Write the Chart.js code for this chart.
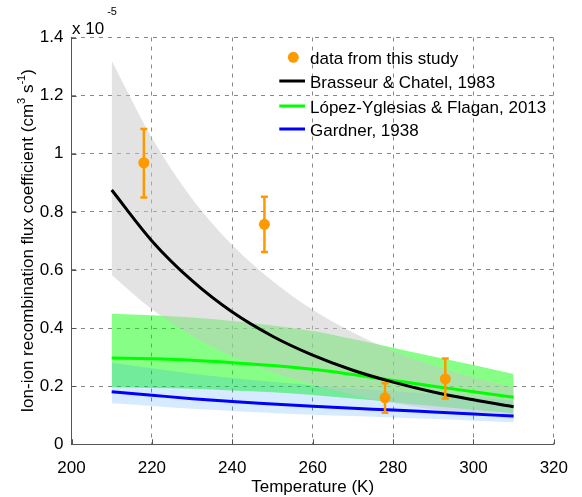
<!DOCTYPE html>
<html>
<head>
<meta charset="utf-8">
<script src="https://cdn.jsdelivr.net/npm/chart.js@4/dist/chart.umd.min.js"></script>
<style>
html,body{margin:0;padding:0;background:#fff;}
#wrap{width:582px;height:497px;}
</style>
</head>
<body>
<div id="wrap"><canvas id="c" width="582" height="497"></canvas></div>
<script>
// ---- data (values in units of 1e-5 cm^3 s^-1) ----
const temps = [210, 220, 230, 240, 250, 260, 270, 280, 290, 300, 310];
const brasseur   = [0.875, 0.700, 0.563, 0.455, 0.372, 0.307, 0.255, 0.214, 0.180, 0.153, 0.129];
const brasseurHi = [1.320, 1.055, 0.845, 0.686, 0.562, 0.463, 0.385, 0.322, 0.272, 0.230, 0.196];
const brasseurLo = [0.583, 0.465, 0.374, 0.303, 0.248, 0.205, 0.170, 0.142, 0.120, 0.102, 0.086];
const lopez      = [0.297, 0.294, 0.289, 0.281, 0.271, 0.258, 0.240, 0.220, 0.200, 0.181, 0.162];
const lopezHi    = [0.449, 0.444, 0.436, 0.424, 0.409, 0.390, 0.362, 0.332, 0.302, 0.273, 0.242];
const lopezLo    = [0.196, 0.194, 0.191, 0.185, 0.179, 0.170, 0.158, 0.145, 0.132, 0.119, 0.107];
const gardner    = [0.181, 0.169, 0.157, 0.147, 0.139, 0.131, 0.124, 0.118, 0.111, 0.104, 0.097];
const gardnerHi  = [0.281, 0.262, 0.243, 0.228, 0.215, 0.203, 0.192, 0.183, 0.172, 0.161, 0.150];
const gardnerLo  = [0.141, 0.132, 0.122, 0.115, 0.108, 0.102, 0.097, 0.092, 0.087, 0.081, 0.076];

const studyT   = [218, 248, 278, 293];
const studyVal = [0.969, 0.757, 0.160, 0.225];
const studyHi  = [1.085, 0.852, 0.210, 0.295];
const studyLo  = [0.849, 0.662, 0.109, 0.158];

const xTicks = [200, 220, 240, 260, 280, 300, 320];
const yTicks = [0, 0.2, 0.4, 0.6, 0.8, 1, 1.2, 1.4];

const legendLabels = ['data from this study', 'Brasseur & Chatel, 1983', 'López-Yglesias & Flagan, 2013', 'Gardner, 1938'];
const xTitle = 'Temperature (K)';
const yTitleParts = [['Ion-ion recombination flux coefficient (cm', 0], ['3', 1], [' s', 0], ['-1', 1], [')', 0]];

// ---- helpers ----
const pts = (xs, ys) => xs.map((x, i) => ({x: x, y: ys[i]}));
const FONT = "'Liberation Sans', Arial, Helvetica, sans-serif";
const ORANGE = '#ff9900';

function band(ys, color, order) {
  return {data: pts(temps, ys), borderWidth: 0, pointRadius: 0, showLine: true,
          backgroundColor: color, borderColor: 'rgba(0,0,0,0)', fill: '+1', order: order,
          cubicInterpolationMode: 'monotone'};
}
function bandLo(ys, order) {
  return {data: pts(temps, ys), borderWidth: 0, pointRadius: 0, showLine: true,
          borderColor: 'rgba(0,0,0,0)', fill: false, order: order,
          cubicInterpolationMode: 'monotone'};
}
function curve(ys, color, order) {
  return {data: pts(temps, ys), borderWidth: 3, pointRadius: 0, showLine: true,
          borderColor: color, fill: false, order: order, cubicInterpolationMode: 'monotone'};
}

const errorBars = {
  id: 'errorBars',
  afterDatasetsDraw(chart) {
    const ctx = chart.ctx, xs = chart.scales.x, ys = chart.scales.y;
    ctx.save();
    ctx.strokeStyle = ORANGE;
    ctx.lineWidth = 2.5;
    studyT.forEach((t, i) => {
      const px = xs.getPixelForValue(t);
      const hi = ys.getPixelForValue(studyHi[i]);
      const lo = ys.getPixelForValue(studyLo[i]);
      ctx.beginPath();
      ctx.moveTo(px, hi); ctx.lineTo(px, lo);
      ctx.moveTo(px - 3.5, hi); ctx.lineTo(px + 3.5, hi);
      ctx.moveTo(px - 3.5, lo); ctx.lineTo(px + 3.5, lo);
      ctx.stroke();
      ctx.fillStyle = ORANGE;
      ctx.beginPath();
      ctx.arc(px, ys.getPixelForValue(studyVal[i]), 5.5, 0, Math.PI * 2);
      ctx.fill();
    });
    ctx.restore();
  }
};

const decorations = {
  id: 'decorations',
  afterDraw(chart) {
    const ctx = chart.ctx, a = chart.chartArea, xs = chart.scales.x, ys = chart.scales.y;
    ctx.save();
    // inward tick marks
    ctx.strokeStyle = '#555';
    ctx.lineWidth = 1;
    ctx.beginPath();
    yTicks.forEach(v => { const py = Math.round(ys.getPixelForValue(v)) + 0.5; ctx.moveTo(a.left, py); ctx.lineTo(a.left + 5, py); });
    xTicks.forEach(v => { const px = Math.round(xs.getPixelForValue(v)) + 0.5; ctx.moveTo(px, a.bottom); ctx.lineTo(px, a.bottom - 5); });
    ctx.stroke();

    ctx.fillStyle = '#000';
    // exponent label
    ctx.textAlign = 'left';
    ctx.textBaseline = 'alphabetic';
    ctx.font = '17px ' + FONT;
    ctx.fillText('x 10', a.left + 0.5, a.top - 3.5);
    const w10 = ctx.measureText('x 10').width;
    ctx.font = '11px ' + FONT;
    ctx.fillText('-5', a.left + 0.5 + w10 + 3, a.top - 23);

    // x title
    ctx.font = '17px ' + FONT;
    ctx.textAlign = 'center';
    ctx.fillText(xTitle, (a.left + a.right) / 2, 491.5);

    // y title (rotated, with superscripts)
    const fMain = '17px ' + FONT, fSup = '11px ' + FONT;
    let total = 0;
    yTitleParts.forEach(p => { ctx.font = p[1] ? fSup : fMain; total += ctx.measureText(p[0]).width; });
    ctx.translate(33, (a.top + a.bottom) / 2);
    ctx.rotate(-Math.PI / 2);
    ctx.textAlign = 'left';
    let cx = -total / 2;
    yTitleParts.forEach(p => {
      ctx.font = p[1] ? fSup : fMain;
      ctx.fillText(p[0], cx, p[1] ? -8 : 0);
      cx += ctx.measureText(p[0]).width;
    });
    ctx.setTransform(1, 0, 0, 1, 0, 0);

    // legend
    ctx.font = '17px ' + FONT;
    ctx.textAlign = 'left';
    ctx.textBaseline = 'middle';
    ctx.fillStyle = ORANGE;
    ctx.beginPath(); ctx.arc(293.3, 57.3, 5.5, 0, Math.PI * 2); ctx.fill();
    const rows = [[81, '#000000'], [106, '#00ff00'], [129, '#0000ff']];
    ctx.lineWidth = 3;
    rows.forEach(r => {
      ctx.strokeStyle = r[1];
      ctx.beginPath(); ctx.moveTo(279.3, r[0]); ctx.lineTo(305, r[0]); ctx.stroke();
    });
    ctx.fillStyle = '#000';
    ctx.fillText(legendLabels[0], 310, 59);
    ctx.fillText(legendLabels[1], 310, 83);
    ctx.fillText(legendLabels[2], 310, 108);
    ctx.fillText(legendLabels[3], 310, 131);
    ctx.restore();
  }
};

new Chart(document.getElementById('c'), {
  type: 'scatter',
  data: {
    datasets: [
      band(lopezHi, 'rgba(0,255,0,0.47)', 10),
      bandLo(lopezLo, 10),
      band(gardnerHi, 'rgba(0,128,255,0.16)', 9),
      bandLo(gardnerLo, 9),
      band(brasseurHi, 'rgba(200,200,200,0.5)', 8),
      bandLo(brasseurLo, 8),
      curve(gardner, '#0000ff', 3),
      curve(lopez, '#00ff00', 2),
      curve(brasseur, '#000000', 1),
      {data: pts(studyT, studyVal), pointRadius: 0, showLine: false, backgroundColor: ORANGE, borderColor: ORANGE, order: 0}
    ]
  },
  options: {
    responsive: false,
    animation: false,
    devicePixelRatio: 1,
    layout: {padding: {left: 0, right: 23.5, top: 37.5, bottom: 0}},
    plugins: {legend: {display: false}, tooltip: {enabled: false}},
    scales: {
      x: {
        type: 'linear', min: 200, max: 320, z: 1,
        afterFit: s => { s.height = 52.7; },
        afterBuildTicks: s => { s.ticks = xTicks.map(v => ({value: v})); },
        ticks: {font: {family: FONT, size: 17}, color: '#000', padding: 14, maxRotation: 0,
                callback: v => String(v)},
        grid: {color: '#888', lineWidth: 1, drawTicks: false},
        border: {display: true, color: '#555', width: 1, dash: [4, 5]}
      },
      y: {
        type: 'linear', min: 0, max: 1.4, z: 1,
        afterFit: s => { s.width = 71.5; },
        afterBuildTicks: s => { s.ticks = yTicks.map(v => ({value: v})); },
        ticks: {font: {family: FONT, size: 17}, color: '#000', padding: 8,
                callback: v => String(Math.round(v * 10) / 10)},
        grid: {color: '#888', lineWidth: 1, drawTicks: false},
        border: {display: true, color: '#555', width: 1, dash: [4, 5]}
      }
    }
  },
  plugins: [errorBars, decorations]
});
</script>
</body>
</html>
